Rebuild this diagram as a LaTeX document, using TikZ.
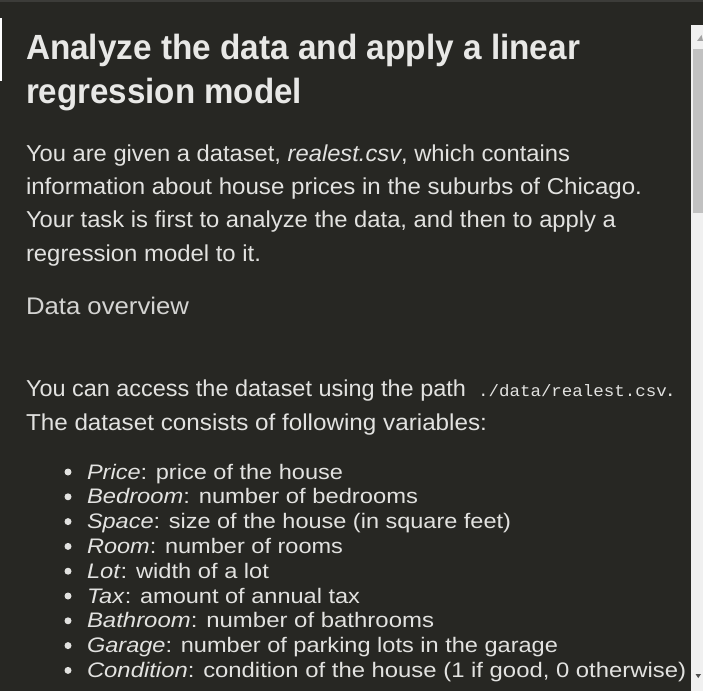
\documentclass[tikz,border=0pt]{standalone}
\usepackage{fontspec}
\usepackage{graphicx}
\setmainfont{Liberation Sans}
\setmonofont{Liberation Mono}
\definecolor{bg}{HTML}{272723}
\definecolor{topline}{HTML}{3C3C39}
\definecolor{fg}{HTML}{E2E2E0}
\definecolor{fgtitle}{HTML}{E8E8E6}
\definecolor{fglight}{HTML}{D4D4D2}
\definecolor{track}{HTML}{F0F0F0}
\definecolor{thumb}{HTML}{C1C1C1}
\definecolor{arrowup}{HTML}{A3A3A3}
\definecolor{arrowdn}{HTML}{505050}
\newcommand{\fitw}[2]{\resizebox{#1bp}{\height}{#2}}
\newcommand{\sz}[1]{\fontsize{#1bp}{#1bp}\selectfont}
\tikzset{
  txt/.style={anchor=base west, inner sep=0pt, outer sep=0pt, text=fg},
  bul/.style={circle, fill=fg, inner sep=0pt, minimum size=7bp},
}
\begin{document}
\begin{tikzpicture}[x=1bp,y=-1bp]
\useasboundingbox (0,0) rectangle (703,691);
\fill[bg] (0,0) rectangle (703,691);
\fill[topline] (0,0) rectangle (703,2);
\fill[white] (0,18) rectangle (2,81);
% scrollbar
\fill[track] (691,25) rectangle (703,691);
\fill[thumb] (693,49) rectangle (703,213);
\fill[arrowup] (697,41) -- (703,41) -- (701.5,35) -- cycle;
\fill[arrowdn] (695.5,674) -- (701,674) -- (698.25,678) -- cycle;
% title
\node[txt, text=fgtitle] (t1) at (26,60) {\fitw{554}{\sz{35}\bfseries Analyze the data and apply a linear}};
\node[txt, text=fgtitle] (t2) at (26,104) {\fitw{276}{\sz{35}\bfseries regression model}};
% paragraph
\node[txt] (p1) at (26,161) {\fitw{544}{\sz{23}You are given a dataset, \textit{realest.csv}, which contains}};
\node[txt] (p2) at (26,194.3) {\fitw{616}{\sz{23}information about house prices in the suburbs of Chicago.}};
\node[txt] (p3) at (26,227.6) {\fitw{590}{\sz{23}Your task is first to analyze the data, and then to apply a}};
\node[txt] (p4) at (26,261) {\fitw{235}{\sz{23}regression model to it.}};
% heading
\node[txt, text=fglight] (h) at (26,314) {\fitw{163}{\sz{24}Data overview}};
% access lines
\node[txt] (a1) at (26,396) {\fitw{440}{\sz{23}You can access the dataset using the path}};
\node[txt] (a2) at (478,396) {\fitw{189}{\sz{16.5}\ttfamily ./data/realest.csv}};
\node[txt] (a3) at (a2.base east) {\sz{23}.};
\node[txt] (a4) at (26,430.5) {\fitw{461}{\sz{23}The dataset consists of following variables:}};
% bullets
\foreach \i/\w/\t in {
  0/256/{\textit{Price}: price of the house},
  1/331/{\textit{Bedroom}: number of bedrooms},
  2/424/{\textit{Space}: size of the house (in square feet)},
  3/256/{\textit{Room}: number of rooms},
  4/182/{\textit{Lot}: width of a lot},
  5/273/{\textit{Tax}: amount of annual tax},
  6/347/{\textit{Bathroom}: number of bathrooms},
  7/471/{\textit{Garage}: number of parking lots in the garage},
  8/599/{\textit{Condition}: condition of the house (1 if good, 0 otherwise)}}{
  \node[bul] (d\i) at (68,479+24.8*\i-7) {};
  \node[txt] (b\i) at (87,479+24.8*\i) {\fitw{\w}{\sz{21}\t}};
}
\end{tikzpicture}
\end{document}
